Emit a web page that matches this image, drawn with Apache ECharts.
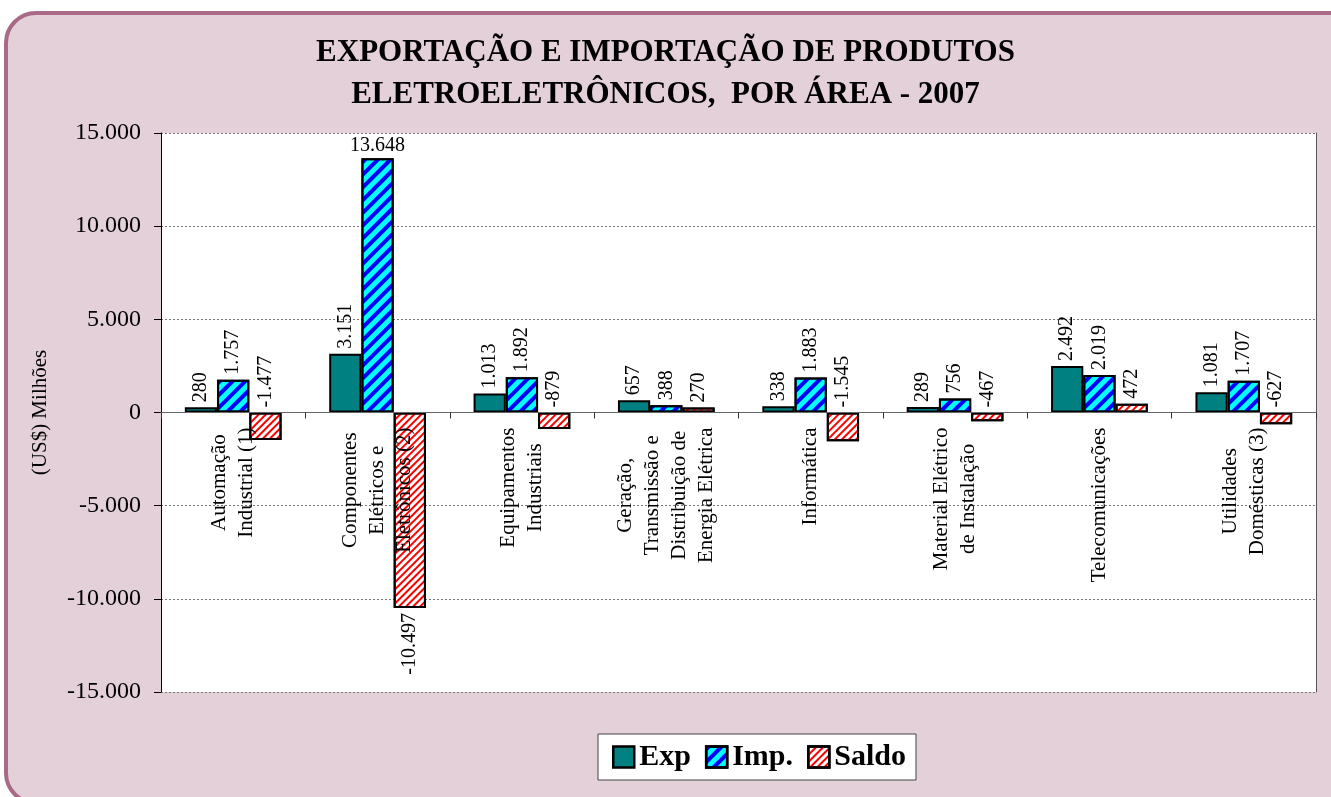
<!DOCTYPE html>
<html><head><meta charset="utf-8">
<script src="https://cdn.jsdelivr.net/npm/echarts@6/dist/echarts.min.js"></script>
<style>html,body{margin:0;padding:0;background:#fff}#c{width:1331px;height:797px}</style>
</head><body><div id="c"></div>
<script>
const categories = ["Automação\nIndustrial (1)", "Componentes\nElétricos e\nEletrônicos (2)", "Equipamentos\nIndustriais", "Geração,\nTransmissão e\nDistribuição de\nEnergia Elétrica", "Informática", "Material Elétrico\nde Instalação", "Telecomunicações", "Utilidades\nDomésticas (3)"];
const expValues = [280, 3151, 1013, 657, 338, 289, 2492, 1081];
const impValues = [1757, 13648, 1892, 388, 1883, 756, 2019, 1707];
const saldoValues = [-1477, -10497, -879, 270, -1545, -467, 472, -627];
const yTicks = {min: -15000, max: 15000, interval: 5000};

const F = 'Liberation Serif, Times New Roman, serif';
function fmt(v){
  const s = Math.abs(v).toString().replace(/\B(?=(\d{3})+(?!\d))/g, '.');
  return (v < 0 ? '-' : '') + s;
}
const rotLabel = {show:true, position:'top', rotate:90, align:'left', verticalAlign:'middle', distance:5,
  fontFamily:F, fontSize:20, color:'#000', formatter:p=>fmt(p.value)};

const impData = impValues.map(v => v === Math.max(...impValues)
  ? {value:v, label:{rotate:0, align:'center', verticalAlign:'bottom', distance:2}} : v);
const saldoData = saldoValues.map(v => v === Math.min(...saldoValues)
  ? {value:v, label:{position:'bottom', rotate:90, align:'right', verticalAlign:'middle', distance:5}} : v);

const GRID_TOP = 133, GRID_BOTTOM = 105, H = 797;
const plotH = H - GRID_TOP - GRID_BOTTOM;
const zeroOffset = plotH * (0 - yTicks.min) / (yTicks.max - yTicks.min);

const chart = echarts.init(document.getElementById('c'));
chart.setOption({
  backgroundColor:'#fff',
  animation:false,
  graphic:[{type:'rect', z:-10, silent:true,
    shape:{x:6, y:13, width:1345, height:790, r:[30,0,0,30]},
    style:{fill:'#e3d0d8', stroke:'#a86a86', lineWidth:4}}],
  title:{text:'EXPORTAÇÃO E IMPORTAÇÃO DE PRODUTOS\nELETROELETRÔNICOS,  POR ÁREA - 2007', left:'center', top:27,
    textStyle:{fontFamily:F, fontSize:31, fontWeight:'bold', color:'#000', lineHeight:42}},
  grid:{left:161, right:15, top:GRID_TOP, bottom:GRID_BOTTOM, show:true, backgroundColor:'#fff', borderWidth:0, outerBoundsMode:'none', containLabel:false},
  legend:{bottom:17, left:598, itemWidth:21, itemHeight:21, itemGap:14, icon:'rect',
    backgroundColor:'#fff', borderColor:'#444', borderWidth:1, padding:[8,10,8,14],
    itemStyle:{borderColor:'#000', borderWidth:2.5},
    textStyle:{fontFamily:F, fontSize:30, fontWeight:'bold', color:'#000', padding:[2,0,0,0]},
    data:['Exp','Imp.','Saldo']},
  xAxis:{type:'category', data:categories, offset:-zeroOffset,
    axisLine:{onZero:false, lineStyle:{color:'#666', width:1}},
    axisTick:{show:true, length:6, lineStyle:{color:'#333'}},
    axisLabel:{interval:0, rotate:90, color:'#000', margin:15,
      formatter:v=>v.split('\n').map(l=>'{c|'+l+'}').join('\n'),
      rich:{c:{align:'center', fontFamily:F, fontSize:21, color:'#000', lineHeight:27}}},
    z:5},
  yAxis:[{type:'value', min:yTicks.min, max:yTicks.max, interval:yTicks.interval,
    name:'(US$) Milhões', nameLocation:'middle', nameGap:110,
    nameTextStyle:{fontFamily:F, fontSize:21, color:'#000'},
    axisLine:{show:true, lineStyle:{color:'#000', width:1}},
    axisTick:{show:true, length:7, lineStyle:{color:'#000'}},
    axisLabel:{fontFamily:F, fontSize:24, color:'#000', margin:20, formatter:v=>fmt(v)},
    splitLine:{show:true, lineStyle:{color:'#777', type:[2,2], width:1}}},
   {type:'value', position:'right', min:yTicks.min, max:yTicks.max, interval:yTicks.interval,
    axisLine:{show:true, lineStyle:{color:'#555', width:1}}, axisTick:{show:false}, axisLabel:{show:false}, splitLine:{show:false}}],
  series:[
    {name:'Exp', type:'bar', data:expValues, barGap:'0%', barCategoryGap:'33%',
     itemStyle:{color:'#008080', borderColor:'#000', borderWidth:2}, label:rotLabel},
    {name:'Imp.', type:'bar', data:impData, barGap:'0%', barCategoryGap:'33%',
     itemStyle:{color:'#00ffff', borderColor:'#000', borderWidth:2,
       decal:{symbol:'rect', symbolSize:1, dashArrayX:[1,0], dashArrayY:[4,5], rotation:-Math.PI/4, color:'#0000ff'}},
     label:rotLabel},
    {name:'Saldo', type:'bar', data:saldoData, barGap:'0%', barCategoryGap:'33%',
     itemStyle:{color:'#ffffff', borderColor:'#000', borderWidth:2,
       decal:{symbol:'rect', symbolSize:1, dashArrayX:[1,0], dashArrayY:[1.5,2.5], rotation:-Math.PI/4, color:'#ff0000'}},
     label:rotLabel}
  ]
});
</script></body></html>
